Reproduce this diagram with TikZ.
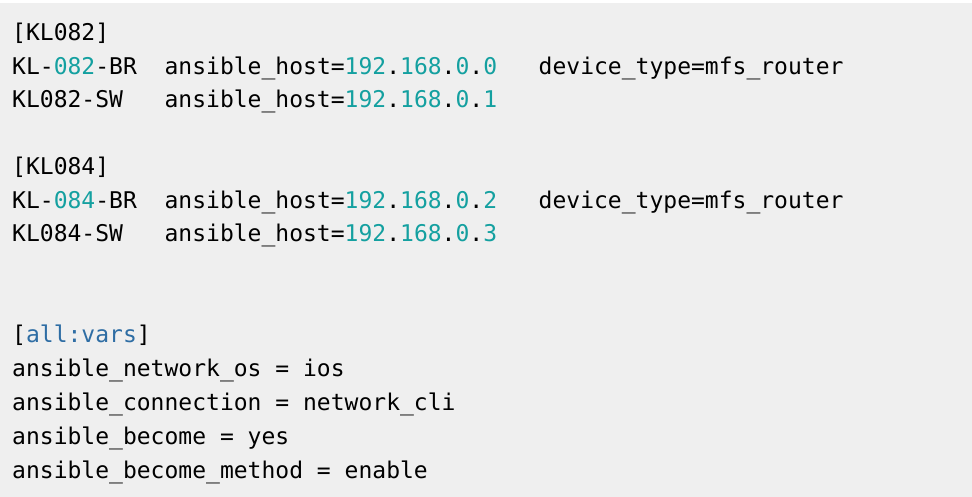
\documentclass[tikz,border=0pt]{standalone}
\usepackage{fontspec}
\setmonofont{DejaVu Sans Mono}
\definecolor{codebg}{HTML}{EFEFEF}
\definecolor{numteal}{HTML}{14A0A0}
\definecolor{secblue}{HTML}{2E6DA4}
\newcommand{\nm}[1]{\textcolor{numteal}{#1}}
\newcommand{\ip}[1]{\nm{192}.\nm{168}.\nm{0}.\nm{#1}}
\tikzset{
  codeline/.style={anchor=base west, inner sep=0pt, font=\ttfamily\fontsize{23.1}{26}\selectfont}
}
\begin{document}
\begin{tikzpicture}[x=1bp,y=-1bp]
    % Background
    \useasboundingbox (0,0) rectangle (972,497);
    \fill[codebg] (0,3) rectangle (972,497);
    % Group KL082
    \node[codeline] (hdra) at (12,41) {[KL082]};
    \node[codeline] (bra) at (12,75) {KL-\nm{082}-BR\ \ ansible\_host=\ip{0}\ \ \ device\_type=mfs\_router};
    \node[codeline] (swa) at (12,108) {KL082-SW\ \ \ ansible\_host=\ip{1}};
    % Group KL084
    \node[codeline] (hdrb) at (12,175) {[KL084]};
    \node[codeline] (brb) at (12,209) {KL-\nm{084}-BR\ \ ansible\_host=\ip{2}\ \ \ device\_type=mfs\_router};
    \node[codeline] (swb) at (12,242) {KL084-SW\ \ \ ansible\_host=\ip{3}};
    % Vars
    \node[codeline] (hdrv) at (12,343) {[\textcolor{secblue}{all:vars}]};
    \node[codeline] (osv) at (12,377) {ansible\_network\_os = ios};
    \node[codeline] (conv) at (12,410) {ansible\_connection = network\_cli};
    \node[codeline] (becv) at (12,444) {ansible\_become = yes};
    \node[codeline] (metv) at (12,478) {ansible\_become\_method = enable};
\end{tikzpicture}
\end{document}
